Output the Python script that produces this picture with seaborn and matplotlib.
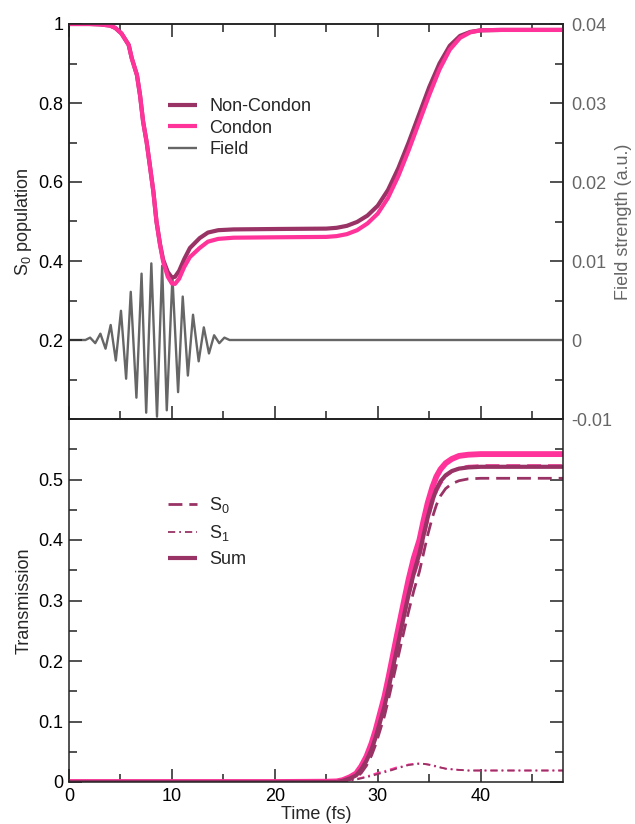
import matplotlib
matplotlib.use("Agg")
import numpy as np
import matplotlib.pyplot as plt
import seaborn as sns
from matplotlib.ticker import MultipleLocator, FixedLocator, FuncFormatter

# ---- S0 population after the pump pulse ----
t_pop = [0, 2, 3, 4, 4.5, 5.1, 5.8, 6.1, 6.6, 6.9, 7.2, 7.55, 7.85, 8.2, 8.5,
         8.85, 9.15, 9.6, 10.0, 10.3, 10.7, 11.2, 11.75, 12.7, 13.5, 14.5, 16,
         20, 25, 26, 27, 28, 29, 30, 31, 32, 33, 34, 35, 36, 37, 38, 39, 40, 42, 48]
pop_condon = [1.0, 1.0, 0.999, 0.996, 0.99, 0.976, 0.947, 0.913, 0.871, 0.82,
              0.753, 0.70, 0.643, 0.575, 0.50, 0.44, 0.398, 0.36, 0.343, 0.342,
              0.355, 0.385, 0.41, 0.433, 0.449, 0.456, 0.459, 0.46, 0.461, 0.463,
              0.468, 0.478, 0.495, 0.52, 0.56, 0.615, 0.68, 0.75, 0.82, 0.885,
              0.935, 0.965, 0.979, 0.984, 0.985, 0.985]
pop_noncondon = [1.0, 1.0, 0.999, 0.996, 0.99, 0.976, 0.947, 0.913, 0.871, 0.82,
                 0.753, 0.70, 0.643, 0.575, 0.50, 0.442, 0.403, 0.372, 0.358, 0.36,
                 0.375, 0.405, 0.433, 0.458, 0.472, 0.478, 0.480, 0.481, 0.482, 0.484,
                 0.489, 0.499, 0.515, 0.54, 0.58, 0.635, 0.70, 0.77, 0.84, 0.90,
                 0.945, 0.97, 0.98, 0.984, 0.985, 0.985]

# ---- pump field: turning points of the oscillation (a.u.) ----
t_field = [0, 1.6, 2.05, 2.55, 3.05, 3.55, 4.05, 4.55, 5.05, 5.55, 6.0, 6.55,
           7.05, 7.5, 8.0, 8.55, 9.05, 9.5, 10.05, 10.6, 11.05, 11.55, 12.05,
           12.6, 13.1, 13.6, 14.1, 14.6, 15.1, 15.6, 48]
field = [0, 0, 0.0003, -0.0004, 0.0008, -0.0011, 0.0019, -0.0026, 0.0037,
         -0.0049, 0.0061, -0.0073, 0.0084, -0.0092, 0.0097, -0.0097, 0.0094,
         -0.0089, 0.0080, -0.0066, 0.0055, -0.0045, 0.0032, -0.0027, 0.0016,
         -0.0017, 0.0006, -0.0004, 0.0003, 0, 0]

# ---- transmission into each electronic state ----
t_tr = [0, 20, 25, 26, 26.6, 27.3, 27.9, 28.4, 28.9, 29.4, 29.8, 30.2, 30.65,
        31.05, 31.45, 31.8, 32.2, 32.6, 33.0, 33.5, 34.05, 34.45, 34.85, 35.3,
        35.7, 36.1, 36.6, 37.2, 37.9, 38.8, 40, 48]
s0_condon = [0, 0, 0.0005, 0.0005, 0.002, 0.005, 0.009, 0.019, 0.033, 0.052,
             0.072, 0.096, 0.123, 0.153, 0.185, 0.213, 0.245, 0.276, 0.306,
             0.340, 0.369, 0.402, 0.432, 0.460, 0.480, 0.493, 0.505, 0.513,
             0.519, 0.522, 0.523, 0.523]
s1_condon = [0, 0, 0, 0.0005, 0.001, 0.003, 0.005, 0.007, 0.009, 0.012, 0.014,
             0.016, 0.018, 0.020, 0.022, 0.024, 0.025, 0.027, 0.029, 0.030,
             0.031, 0.030, 0.029, 0.027, 0.025, 0.024, 0.022, 0.021, 0.020,
             0.019, 0.019, 0.019]
s0_noncondon = [0, 0, 0, 0, 0.0015, 0.004, 0.007, 0.015, 0.027, 0.044, 0.062,
                0.084, 0.109, 0.137, 0.167, 0.193, 0.223, 0.253, 0.282, 0.316,
                0.348, 0.378, 0.408, 0.437, 0.458, 0.473, 0.485, 0.493, 0.498,
                0.501, 0.502, 0.502]
s1_noncondon = [0, 0, 0, 0, 0.0005, 0.002, 0.004, 0.006, 0.008, 0.010, 0.012,
                0.014, 0.016, 0.018, 0.020, 0.022, 0.024, 0.026, 0.028, 0.029,
                0.030, 0.030, 0.029, 0.028, 0.026, 0.024, 0.022, 0.021, 0.020,
                0.019, 0.019, 0.019]
sum_condon = np.add(s0_condon, s1_condon)
sum_noncondon = np.add(s0_noncondon, s1_noncondon)

x_ticks = [0, 10, 20, 30, 40]
pop_ticks = [0.2, 0.4, 0.6, 0.8, 1.0]
field_ticks = [-0.01, 0, 0.01, 0.02, 0.03, 0.04]
tr_ticks = [0, 0.1, 0.2, 0.3, 0.4, 0.5]

DARK = "#993366"
PINK = "#ff3399"
GREY = "#666666"
INK = "#222222"

sns.set_theme(style="ticks")
plt.rcParams.update({
    "font.family": ["Liberation Sans", "DejaVu Sans"],
    "mathtext.fontset": "custom",
    "mathtext.rm": "Liberation Sans",
    "mathtext.it": "Liberation Sans:italic",
    "axes.unicode_minus": False,
    "font.size": 13,
    "axes.labelsize": 13,
    "xtick.labelsize": 13,
    "ytick.labelsize": 13,
    "legend.fontsize": 13,
    "axes.edgecolor": INK,
    "axes.linewidth": 1.1,
    "xtick.color": INK,
    "ytick.color": INK,
    "xtick.labelcolor": "black",
    "ytick.labelcolor": "black",
    "lines.solid_capstyle": "butt",
    "lines.solid_joinstyle": "round",
})

fmt = FuncFormatter(lambda v, pos: f"{v:g}")

fig = plt.figure(figsize=(6.35, 8.24), dpi=100)
W, H = 635, 824
left, right = 69, 563
ax1 = fig.add_axes([left / W, 1 - 419 / H, (right - left) / W, (419 - 24) / H])
ax2 = fig.add_axes([left / W, 1 - 782 / H, (right - left) / W, (782 - 419) / H])
ax1r = ax1.twinx()

# --- top panel ---
sns.lineplot(x=t_field, y=field, ax=ax1r, color=GREY, lw=1.7,
             estimator=None, sort=False)
sns.lineplot(x=t_pop, y=pop_noncondon, ax=ax1, color=DARK, lw=3.0,
             estimator=None, sort=False)
sns.lineplot(x=t_pop, y=pop_condon, ax=ax1, color=PINK, lw=3.0,
             estimator=None, sort=False)
h_field = ax1r.get_lines()[-1]
h_nc, h_c = ax1.get_lines()[-2:]

ax1.set_zorder(ax1r.get_zorder() + 1)
ax1.patch.set_visible(False)

ax1.set_xlim(0, 48)
ax1.set_ylim(0, 1)
ax1r.set_ylim(-0.01, 0.04)
ax1.xaxis.set_major_locator(FixedLocator(x_ticks))
ax1.xaxis.set_minor_locator(MultipleLocator(5))
ax1.yaxis.set_major_locator(FixedLocator(pop_ticks))
ax1.yaxis.set_minor_locator(MultipleLocator(0.1))
ax1.yaxis.set_major_formatter(fmt)
ax1r.yaxis.set_major_locator(FixedLocator(field_ticks))
ax1r.yaxis.set_minor_locator(MultipleLocator(0.005))
ax1r.yaxis.set_major_formatter(fmt)

ax1.tick_params(axis="x", which="both", direction="in", top=True, bottom=True,
                labelbottom=False, width=1.1)
ax1.tick_params(axis="y", which="both", direction="in", left=True, right=False,
                width=1.1, pad=4)
ax1.tick_params(which="major", length=9.5)
ax1.tick_params(which="minor", length=5.5)
ax1r.tick_params(axis="y", which="both", direction="in", width=1.1, pad=6,
                 labelcolor=GREY)
ax1r.tick_params(which="major", length=9.5)
ax1r.tick_params(which="minor", length=5.5)

ax1.set_ylabel("S$_0$ population", labelpad=3)
ax1r.set_ylabel("Field strength (a.u.)", color=GREY, labelpad=2)
ax1.set_xlabel("")
ax1r.set_xlabel("")

ax1.legend([h_nc, h_c, h_field], ["Non-Condon", "Condon", "Field"],
           loc="upper left", bbox_to_anchor=(0.2, 0.812), frameon=False,
           handlelength=1.6, handletextpad=0.7, labelspacing=0.25,
           borderpad=0, borderaxespad=0)

# --- bottom panel ---
sns.lineplot(x=t_tr, y=s0_condon, ax=ax2, color=PINK, lw=2.0,
             linestyle=(0, (5, 2.5)), estimator=None, sort=False)
sns.lineplot(x=t_tr, y=s1_condon, ax=ax2, color=PINK, lw=1.3,
             linestyle=(0, (4, 2.2, 1, 2.2)), estimator=None, sort=False)
sns.lineplot(x=t_tr, y=sum_condon, ax=ax2, color=PINK, lw=4.2,
             estimator=None, sort=False)
sns.lineplot(x=t_tr, y=sum_noncondon, ax=ax2, color=DARK, lw=3.0,
             estimator=None, sort=False)
sns.lineplot(x=t_tr, y=s0_noncondon, ax=ax2, color=DARK, lw=2.0,
             linestyle=(0, (5, 2.5)), estimator=None, sort=False)
sns.lineplot(x=t_tr, y=s1_noncondon, ax=ax2, color=DARK, lw=1.3,
             linestyle=(0, (4, 2.2, 1, 2.2)), estimator=None, sort=False)
lines2 = ax2.get_lines()
h_s0, h_s1, h_sum = lines2[4], lines2[5], lines2[3]

ax2.set_xlim(0, 48)
ax2.set_ylim(0, 0.6)
ax2.xaxis.set_major_locator(FixedLocator(x_ticks))
ax2.xaxis.set_minor_locator(MultipleLocator(5))
ax2.yaxis.set_major_locator(FixedLocator(tr_ticks))
ax2.yaxis.set_minor_locator(MultipleLocator(0.05))
ax2.xaxis.set_major_formatter(fmt)
ax2.yaxis.set_major_formatter(fmt)
ax2.tick_params(axis="x", which="both", direction="in", top=False, bottom=True,
                width=1.1, pad=4)
ax2.tick_params(axis="y", which="both", direction="in", left=True, right=True,
                labelright=False, width=1.1, pad=4)
ax2.tick_params(which="major", length=9.5)
ax2.tick_params(which="minor", length=5.5)

ax2.set_xlabel("Time (fs)", labelpad=1)
ax2.set_ylabel("Transmission", labelpad=4)

ax2.legend([h_s0, h_s1, h_sum], ["S$_0$", "S$_1$", "Sum"],
           loc="upper left", bbox_to_anchor=(0.2, 0.79), frameon=False,
           handlelength=1.6, handletextpad=0.7, labelspacing=0.45,
           borderpad=0, borderaxespad=0)

fig.savefig("out.png", dpi=100)
